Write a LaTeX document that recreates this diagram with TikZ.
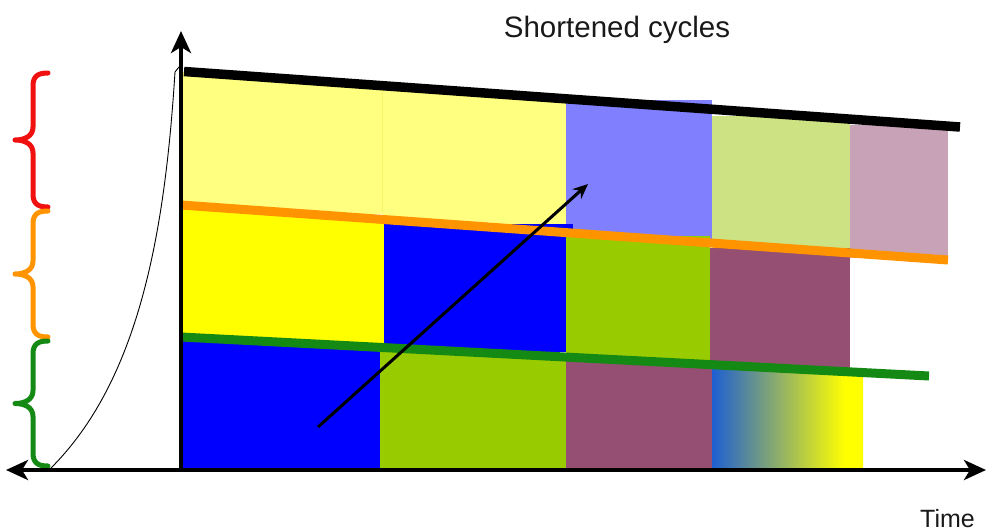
\documentclass[tikz,border=0pt]{standalone}
\usepackage{fontspec}
\setmainfont{Liberation Sans}
\usetikzlibrary{arrows.meta}

\definecolor{paleyellow}{HTML}{FFFF80}
\definecolor{paleviolet}{HTML}{8080FF}
\definecolor{palegreen}{HTML}{CDE283}
\definecolor{palemauve}{HTML}{C8A3B8}
\definecolor{cellyellow}{HTML}{FFFF00}
\definecolor{cellblue}{HTML}{0000FF}
\definecolor{cellgreen}{HTML}{99CC00}
\definecolor{cellplum}{HTML}{954F72}
\definecolor{fadeblue}{HTML}{1E5FD2}
\definecolor{levelred}{HTML}{F01010}
\definecolor{levelorange}{HTML}{FF9300}
\definecolor{levelgreen}{HTML}{148A14}
\definecolor{seamyellow}{HTML}{F6F26A}

\tikzset{
  axisline/.style={line width=4, -{Stealth[length=22,width=20,inset=6]}},
  bandline/.style={line width=9},
  bracestroke/.style={line width=5, line cap=round, line join=round},
  trend/.style={line width=3, -{Stealth[length=15,width=13]}},
}

% curly brace opening to the right: colour, top y, bottom y
\newcommand\levelbrace[3]{%
  \pgfmathsetmacro\bracemid{(#2+#3)/2}%
  \draw[bracestroke, #1]
    (48,#2) .. controls (38,#2) and (33,#2+3) .. (33,#2+13)
    -- (33,\bracemid-13)
    .. controls (33,\bracemid-4) and (25,\bracemid) .. (15,\bracemid)
    .. controls (25,\bracemid) and (33,\bracemid+4) .. (33,\bracemid+13)
    -- (33,#3-13)
    .. controls (33,#3-3) and (38,#3) .. (48,#3);%
}

\begin{document}
\begin{tikzpicture}[x=1pt,y=-1pt]
\useasboundingbox (0,0) rectangle (987,532);

% first band of cycles
\fill[paleyellow] (181,72) -- (383,86) -- (383,214) -- (181,214) -- cycle;
\fill[paleyellow] (383,86) -- (566,99) -- (566,230) -- (383,230) -- cycle;
\draw[seamyellow, line width=1] (382,88) -- (382,212);
\fill[paleviolet] (566,100) rectangle (712,240);
\fill[palegreen]  (712,116) rectangle (850,252);
\fill[palemauve]  (850,125) rectangle (948,258);

% second band
\fill[cellyellow] (181,205) -- (384,219.6) -- (384,345) -- (181,345) -- cycle;
\fill[cellblue]   (384,224) rectangle (573,352);
\fill[cellgreen]  (566,236) rectangle (710,362);
\fill[cellplum]   (710,248) rectangle (850,370);

% third band
\fill[cellblue]   (181,337) -- (380,347.4) -- (380,468) -- (181,468) -- cycle;
\fill[cellgreen]  (380,347.4) -- (566,357.1) -- (566,468) -- (380,468) -- cycle;
\fill[cellplum]   (566,357.1) -- (712,364.7) -- (712,468) -- (566,468) -- cycle;
\shade[left color=fadeblue, right color=cellyellow] (712,364.7) -- (845,371.6) -- (845,468) -- (712,468) -- cycle;
\fill[cellyellow] (845,371.6) -- (863,372.6) -- (863,468) -- (845,468) -- cycle;

% level lines
\draw[bandline, line width=9.5, black] (184,71.5) -- (960,127);
\draw[bandline, levelorange] (181,205) -- (948,260);
\draw[bandline, levelgreen]  (181,337) -- (929,376);

% trend arrow
\coordinate (trendstart) at (318,427);
\coordinate (trendend) at (588,184);
\draw[trend] (trendstart) -- (trendend);

% growth curve
\coordinate (curvestart) at (50,469);
\coordinate (curveend) at (179,67);
\draw[line width=0.9] (curvestart) .. controls (140,380) and (165,230) .. (175,72) -- (curveend);

% braces on the left
\levelbrace{levelred}{73}{207}
\levelbrace{levelorange}{211}{337}
\levelbrace{levelgreen}{341}{466}

% axes
\coordinate (origin) at (181,470);
\coordinate (ytop) at (181,31);
\coordinate (xleft) at (6,470);
\coordinate (xright) at (986,470);
\draw[axisline] (origin) -- (ytop);
\draw[axisline, {Stealth[length=22,width=20,inset=6]}-{Stealth[length=22,width=20,inset=6]}] (xleft) -- (xright);

% labels
\node[anchor=base, inner sep=0, font=\fontsize{29.5}{34}\selectfont, text=black!90] (title) at (617,38) {Shortened cycles};
\node[anchor=base east, inner sep=0, font=\fontsize{25}{30}\selectfont, text=black!90] (timelabel) at (975,527) {Time};
\end{tikzpicture}
\end{document}
